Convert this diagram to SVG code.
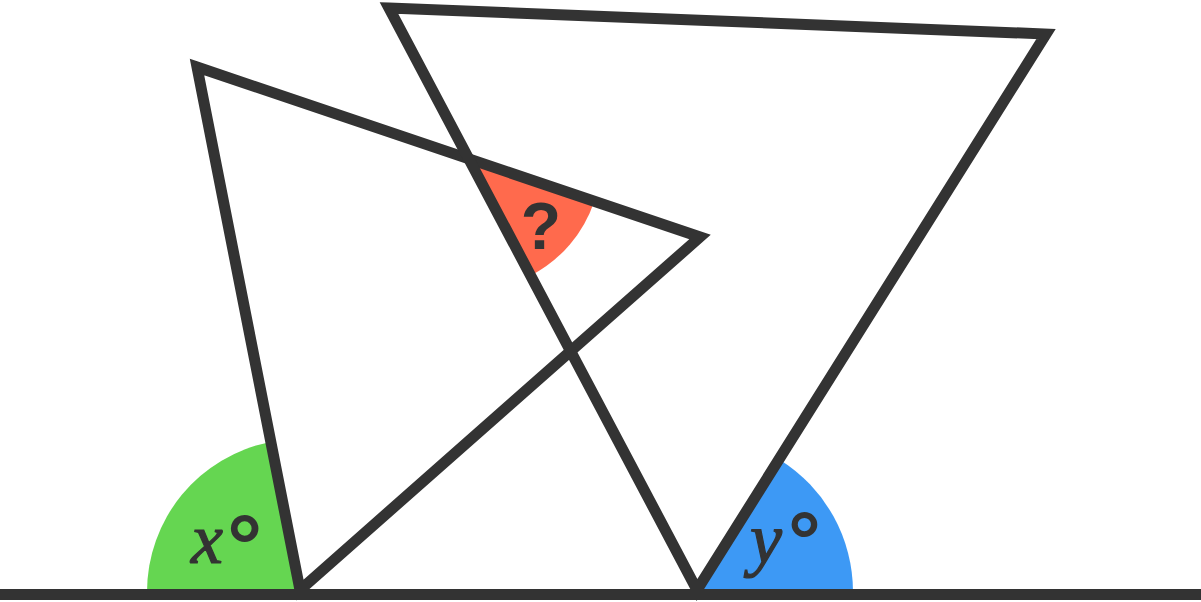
<svg xmlns="http://www.w3.org/2000/svg" width="1201" height="602" viewBox="0 0 1201 602">
<style>
.tri{fill:none;stroke:#333333;stroke-width:11;stroke-linejoin:miter;stroke-miterlimit:10}
.base{stroke:#333333;stroke-width:11}
.var{font-family:"Liberation Serif",serif;font-style:italic;fill:#333333;stroke:#333333;stroke-width:1.2}
.deg{font-family:"Liberation Sans",sans-serif;font-style:normal;font-weight:bold;fill:#333333;stroke:none}
.q{font-family:"Liberation Sans",sans-serif;font-weight:bold;fill:#333333}
</style>
<rect width="1201" height="602" fill="#ffffff"/>
<g id="angle-x">
<path d="M300,592 L147,592 A153,153 0 0 1 270.5,441.9 Z" fill="#65d651"/>
<text class="var" x="191" y="563" font-size="72">x<tspan class="deg" font-size="88" x="227" y="576">°</tspan></text>
</g>
<g id="angle-y">
<path d="M697,592 L853,592 A156,156 0 0 0 779.7,459.7 Z" fill="#3d99f5"/>
<text class="var" x="750" y="563" font-size="72">y<tspan class="deg" font-size="82" x="788" y="569">°</tspan></text>
</g>
<g id="angle-q">
<path d="M471,160 L594.2,201.4 A130,130 0 0 1 531.3,275.2 Z" fill="#ff6a4d"/>
<text class="q" x="541" y="249" font-size="66" text-anchor="middle">?</text>
</g>
<g id="connectors">
<polygon id="triangle-left" class="tri" points="197,67 700,237 300,590"/>
<polygon id="triangle-right" class="tri" points="389,8 1046,34 697,590"/>
<line class="base" x1="0" y1="594.5" x2="1201" y2="594.5"/>
</g>
</svg>
